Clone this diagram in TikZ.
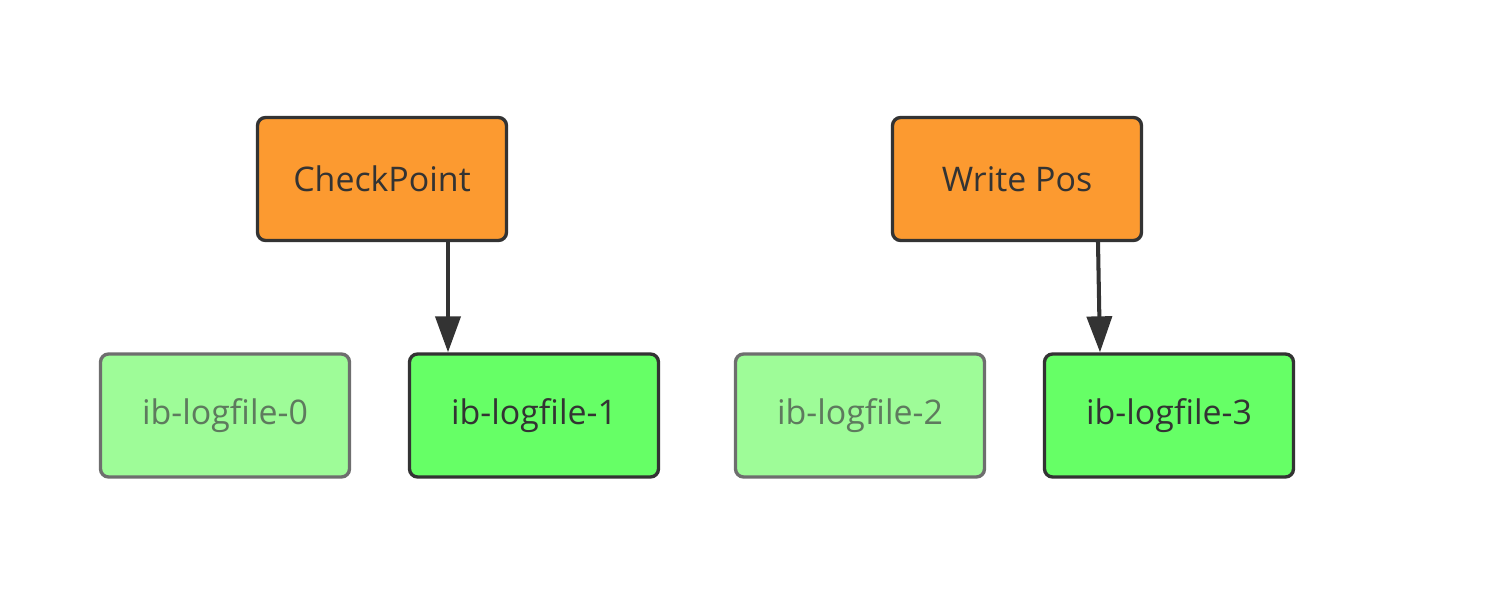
\documentclass[tikz,border=0pt]{standalone}
\usepackage{fontspec}
\setmainfont{Open Sans}
\usetikzlibrary{arrows.meta}
\definecolor{orangefill}{HTML}{FC9A30}
\definecolor{greenfill}{HTML}{66FF66}
\definecolor{lightgreen}{HTML}{9EFC98}
\definecolor{darkline}{HTML}{333333}
\definecolor{fadeline}{HTML}{6E6E6E}
\definecolor{fadetext}{HTML}{5E7A5E}
\tikzset{
  box/.style={draw=darkline, line width=1.9pt, rounded corners=0.16cm,
    minimum width=4.98cm, minimum height=2.46cm, inner sep=0pt,
    font=\fontsize{19.3}{23}\selectfont, text=darkline},
  topbox/.style={box, fill=orangefill},
  activebox/.style={box, fill=greenfill},
  fadedbox/.style={box, fill=lightgreen, draw=fadeline, text=fadetext},
  arr/.style={draw=darkline, line width=2.3pt, -{Triangle[length=0.72cm, width=0.5cm]}}
}
\begin{document}
\begin{tikzpicture}[x=0.02cm, y=-0.02cm]
\useasboundingbox (0,0) rectangle (1502,594);
\node[topbox] (cp) at (382,179) {CheckPoint};
\node[topbox] (wp) at (1017,179) {Write Pos};
\node[fadedbox] (l0) at (225,415.5) {ib-logfile-0};
\node[activebox] (l1) at (534,415.5) {ib-logfile-1};
\node[fadedbox] (l2) at (860,415.5) {ib-logfile-2};
\node[activebox] (l3) at (1169,415.5) {ib-logfile-3};
\coordinate (a1) at (448,0);
\coordinate (a2) at (1098,0);
\coordinate (a3) at (1100,0);
\draw[arr] (cp.south -| a1) -- (l1.north -| a1);
\draw[arr] (wp.south -| a2) -- (l3.north -| a3);
\end{tikzpicture}
\end{document}
